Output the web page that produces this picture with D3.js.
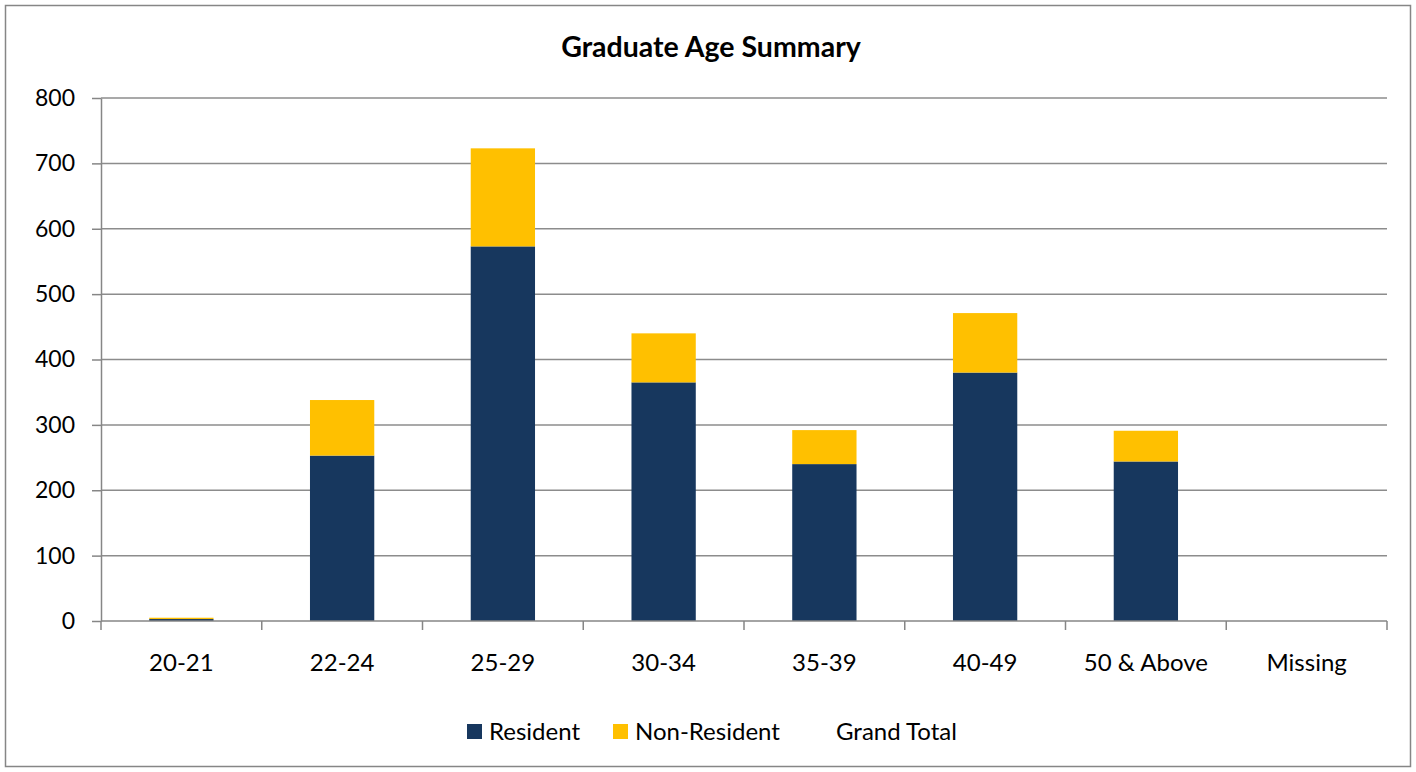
<!DOCTYPE html>
<html>
<head>
<meta charset="utf-8">
<script src="https://cdn.jsdelivr.net/npm/d3@7"></script>
<style>
  body { margin: 0; background: #fff; }
  svg { display: block; font-family: Lato, "Open Sans", sans-serif; }
</style>
</head>
<body>
<div id="chart"></div>
<script>
// Data
const categories = ['20-21', '22-24', '25-29', '30-34', '35-39', '40-49', '50 & Above', 'Missing'];
const resident = [3, 253, 573, 365, 240, 380, 244, 0];
const nonResident = [2, 85, 150, 75, 52, 91, 47, 0];
const yTicks = [0, 100, 200, 300, 400, 500, 600, 700, 800];
const seriesNames = ['Resident', 'Non-Resident', 'Grand Total'];
const seriesColors = ['#17375e', '#ffc000', 'none'];

const W = 1416, H = 772;
const margin = { top: 98, right: 29, bottom: 151, left: 101 };
const width = W - margin.left - margin.right;
const height = H - margin.top - margin.bottom;

const svg = d3.select('#chart').append('svg')
  .attr('width', W)
  .attr('height', H);

// Outer chart border
svg.append('rect')
  .attr('x', 5.5).attr('y', 5.5)
  .attr('width', W - 11).attr('height', H - 11)
  .attr('fill', '#fff')
  .attr('stroke', '#868686')
  .attr('stroke-width', 1.5);

svg.append('text')
  .attr('x', 711).attr('y', 57)
  .attr('text-anchor', 'middle')
  .attr('font-size', '28.5px')
  .attr('font-weight', 'bold')
  .attr('fill', '#000')
  .text('Graduate Age Summary');

const g = svg.append('g')
  .attr('transform', `translate(${margin.left},${margin.top})`);

const x = d3.scaleBand().domain(categories).range([0, width]).paddingInner(0.6).paddingOuter(0.3);
const xb = d3.scaleBand().domain(categories).range([0, width]);
const y = d3.scaleLinear().domain([0, 800]).range([height, 0]);

// Gridlines
g.append('g')
  .selectAll('line')
  .data(yTicks.filter(d => d > 0))
  .enter().append('line')
  .attr('x1', 0).attr('x2', width)
  .attr('y1', d => y(d)).attr('y2', d => y(d))
  .attr('stroke', '#8c8c8c')
  .attr('stroke-width', 1.5);

// Stacked bars
const stackData = categories.map((c, i) => ({ cat: c, Resident: resident[i], 'Non-Resident': nonResident[i] }));
const stacked = d3.stack().keys(['Resident', 'Non-Resident'])(stackData);

g.append('g')
  .selectAll('g')
  .data(stacked)
  .enter().append('g')
  .attr('fill', (d, i) => seriesColors[i])
  .selectAll('rect')
  .data(d => d)
  .enter().append('rect')
  .attr('x', d => x(d.data.cat))
  .attr('width', x.bandwidth())
  .attr('y', d => y(d[1]))
  .attr('height', d => y(d[0]) - y(d[1]));

// Y axis
const yAxis = g.append('g')
  .call(d3.axisLeft(y).tickValues(yTicks).tickSize(9).tickPadding(17).tickSizeOuter(0));
yAxis.select('.domain').attr('stroke', '#868686').attr('stroke-width', 1.5);
yAxis.selectAll('line').attr('stroke', '#868686').attr('stroke-width', 1.5);
yAxis.selectAll('text').attr('font-size', '23px').attr('fill', '#000').attr('font-family', 'Lato, sans-serif');

// X axis with ticks at category boundaries
const xAxis = g.append('g').attr('transform', `translate(0,${height})`);
xAxis.append('line')
  .attr('x1', 0).attr('x2', width)
  .attr('stroke', '#868686').attr('stroke-width', 1.5);
xAxis.selectAll('line.tick')
  .data(categories.map(c => xb(c)).concat([width]))
  .enter().append('line')
  .attr('class', 'tick')
  .attr('x1', d => d).attr('x2', d => d)
  .attr('y1', 0).attr('y2', 9)
  .attr('stroke', '#868686').attr('stroke-width', 1.5);
xAxis.selectAll('text')
  .data(categories)
  .enter().append('text')
  .attr('x', d => xb(d) + xb.bandwidth() / 2)
  .attr('y', 50)
  .attr('text-anchor', 'middle')
  .attr('font-size', '24px')
  .attr('fill', '#000')
  .text(d => d);

// Legend
const legendX = [467, 613, 836];
const legend = svg.append('g');
seriesNames.forEach((name, i) => {
  if (seriesColors[i] !== 'none') {
    legend.append('rect')
      .attr('x', legendX[i]).attr('y', 724)
      .attr('width', 15).attr('height', 15)
      .attr('fill', seriesColors[i]);
  }
  legend.append('text')
    .attr('x', seriesColors[i] !== 'none' ? legendX[i] + 22 : legendX[i])
    .attr('y', 740)
    .attr('font-size', '24px')
    .attr('fill', '#000')
    .text(name);
});
</script>
</body>
</html>
